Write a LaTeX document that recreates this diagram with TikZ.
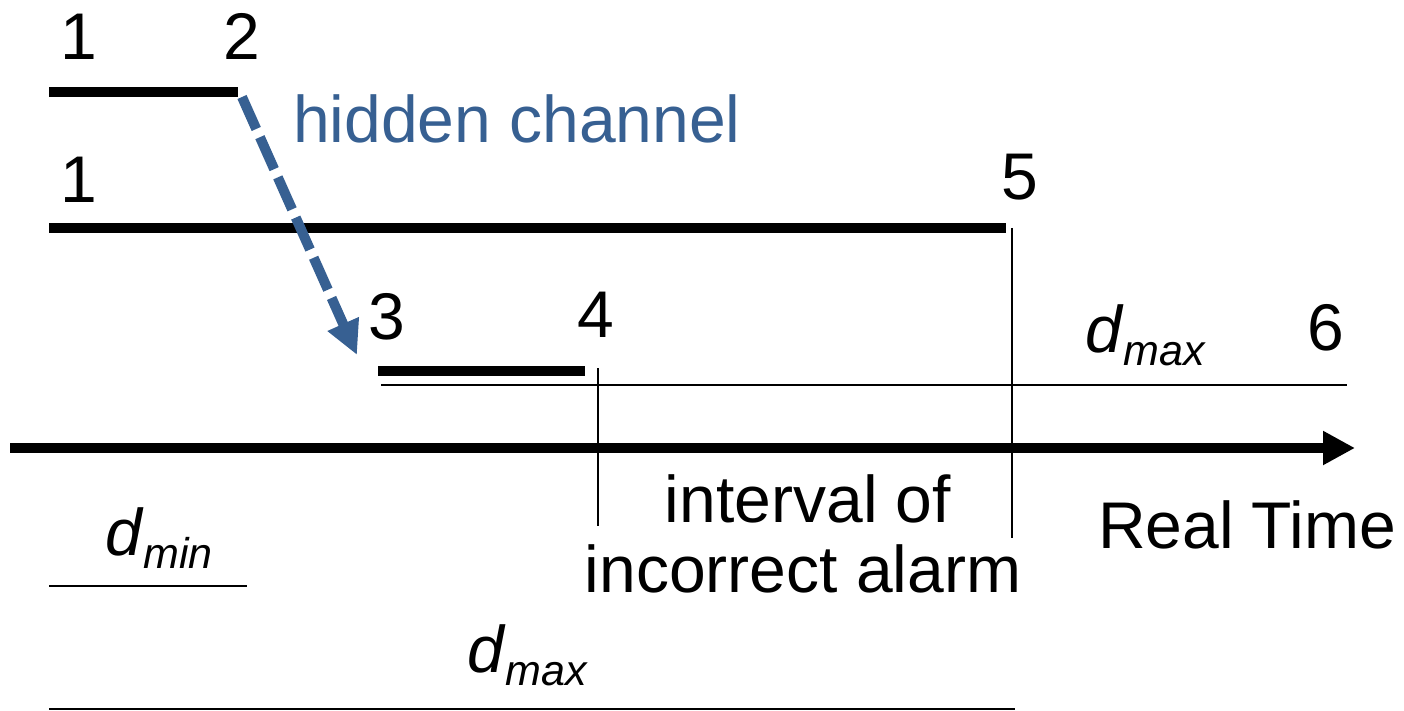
\documentclass[tikz,border=0pt]{standalone}
\usepackage{fontspec}
\setmainfont{Liberation Sans}
\usetikzlibrary{arrows.meta}
\definecolor{chanblue}{RGB}{55,96,146}
\newcommand{\dsub}[1]{\textit{d}\raisebox{-13pt}{\fontsize{43}{43}\selectfont\itshape #1}}
\begin{document}
\begin{tikzpicture}[x=1pt,y=-1pt,
  lbl/.style={inner sep=0pt,outer sep=0pt,anchor=base,font=\fontsize{66}{70}\selectfont},
  lblw/.style={lbl,anchor=base west},
  thick bar/.style={line width=10pt},
  thin bar/.style={line width=2.6pt},
  chan/.style={chanblue,line width=10pt,dash pattern=on 35pt off 9pt,-{Triangle[length=34pt,width=32pt]}},
  axisarrow/.style={line width=10pt,-{Triangle[length=32pt,width=32pt]}}]
\useasboundingbox (0,0) rectangle (1404,711);
% labels
\node[lbl] (n1a) at (79,60) {1};
\node[lbl] (n2) at (242,60) {2};
\node[lbl] (n1b) at (79,203) {1};
\node[lbl] (n5) at (1020,200) {5};
\node[lbl] (n3) at (387,339) {3};
\node[lbl] (n4) at (596,337) {4};
\node[lbl] (n6) at (1326,350) {6};
\node[lblw] (dmaxr) at (1085,352) {\dsub{max}};
\node[lblw] (rt) at (1098,548) {Real Time};
\node[lbl] (iv1) at (808,522) {interval of};
\node[lbl] (iv2) at (803,592) {incorrect alarm};
\node[lblw] (dmin) at (105,555) {\dsub{min}};
\node[lblw] (dmaxb) at (467,672) {\dsub{max}};
\node[lblw,text=chanblue] (hc) at (293,143) {hidden channel};
% coordinates
\coordinate (a12s) at (49,92);
\coordinate (a12e) at (238,92);
\coordinate (a15s) at (49,228);
\coordinate (a15e) at (1006,228);
\coordinate (a34s) at (378,371);
\coordinate (a34e) at (585,371);
\coordinate (t6s) at (381,385);
\coordinate (t6e) at (1347,385);
\coordinate (axs) at (10,448);
\coordinate (axe) at (1355,448);
\coordinate (v4t) at (598,368);
\coordinate (v4b) at (598,526);
\coordinate (v5t) at (1012,228);
\coordinate (v5b) at (1012,538);
\coordinate (dmins) at (49,586);
\coordinate (dmine) at (247,586);
\coordinate (dmaxs) at (49,709);
\coordinate (dmaxe) at (1015,709);
\coordinate (chs) at (242,97);
\coordinate (che) at (357,355);
% bars
\draw[thick bar] (a12s) -- (a12e);
\draw[thick bar] (a15s) -- (a15e);
\draw[thick bar] (a34s) -- (a34e);
\draw[thin bar] (t6s) -- (t6e);
\draw[thin bar] (v4t) -- (v4b);
\draw[thin bar] (v5t) -- (v5b);
\draw[thin bar] (dmins) -- (dmine);
\draw[thin bar] (dmaxs) -- (dmaxe);
\draw[axisarrow] (axs) -- (axe);
\draw[chan] (chs) -- (che);
\end{tikzpicture}
\end{document}
